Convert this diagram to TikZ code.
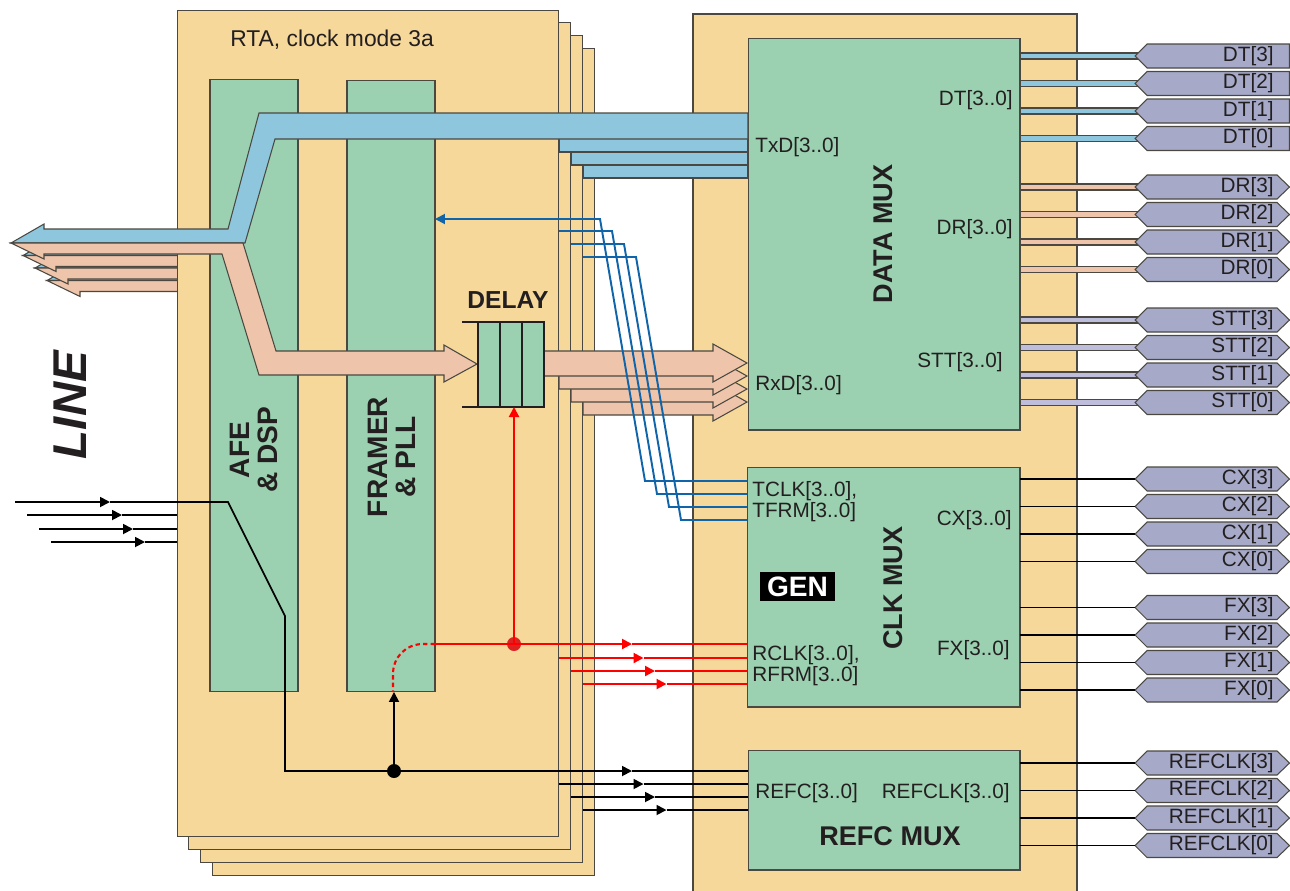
\documentclass[tikz,border=0pt]{standalone}
\usepackage{fontspec}
\setmainfont{Liberation Sans}
\usetikzlibrary{arrows.meta,calc}
\definecolor{pagec}{RGB}{245,216,154}
\definecolor{grn}{RGB}{155,208,176}
\definecolor{blu}{RGB}{142,198,222}
\definecolor{pnk}{RGB}{238,196,170}
\definecolor{lav}{RGB}{166,170,200}
\definecolor{lavl}{RGB}{190,190,220}
\definecolor{edgec}{RGB}{75,72,65}
\definecolor{bluel}{RGB}{15,100,170}
\definecolor{txtc}{RGB}{35,31,32}
\definecolor{dotred}{RGB}{220,35,35}
\tikzset{
 pg/.style={fill=pagec, draw=edgec, line width=0.6pt},
 gbox/.style={fill=grn, draw=edgec, line width=0.6pt, inner sep=0pt, outer sep=0pt},
 bandb/.style={fill=blu, draw=edgec, line width=0.6pt},
 bandp/.style={fill=pnk, draw=edgec, line width=0.6pt},
 bandl/.style={fill=lavl, draw=edgec, line width=0.6pt},
 lblst/.style={fill=lav, draw=edgec, line width=0.6pt},
 txt/.style={font=\fontsize{11.8}{13}\selectfont, text=txtc, inner sep=0pt},
 btxt/.style={font=\bfseries\fontsize{15.4}{17}\selectfont, text=txtc, inner sep=0pt},
 bl/.style={draw=bluel, line width=1.1pt},
 rl/.style={draw=red, line width=1.2pt},
 kl/.style={draw=black, line width=1pt},
 ol/.style={draw=black, line width=0.8pt},
 tri/.style={-{Triangle[length=0.2cm,width=0.2cm]}},
 dotn/.style={circle, inner sep=0pt, minimum size=0.28cm},
}
\newcommand\outlbl[4]{%
  \draw[lblst] (1135,#2) -- (1147,{#2-12}) -- (#4,{#2-12}) -- (1289.5,#2) -- (#4,{#2+12}) -- (1147,{#2+12}) -- cycle;
  \node[txt, anchor=east] (#1) at (1274,#2) {#3};
  \coordinate (#1in) at (1135,#2);
}
\begin{document}
\begin{tikzpicture}[x=0.02cm, y=-0.02cm]
\useasboundingbox (0,0) rectangle (1290,890);

% shadow copies of the line arrow
\foreach \k in {3,2,1}{
 \begin{scope}[shift={({12*\k},{12.5*\k})}]
  \draw[bandb] (200,229) -- (44,229) -- (44,224) -- (11,243) -- (200,243) -- cycle;
  \draw[bandp] (11,243) -- (200,243) -- (200,254) -- (44,254) -- (44,259) -- cycle;
 \end{scope}
}

% stacked pages
\foreach \k in {3,2,1}{
 \draw[pg] ({177+11.7*\k},{10+12.8*\k}) rectangle ++(382,827);
}
\node[pg, inner sep=0pt, outer sep=0pt, minimum width=7.64cm, minimum height=16.54cm] (rta) at (368,423.5) {};
\node[txt, font=\fontsize{13}{15}\selectfont, anchor=west] (rtat) at (230,40) {RTA, clock mode 3a};

% right panel
\draw[pg] (693,14) rectangle (1077,900);

% green boxes
\node[gbox, minimum width=1.76cm, minimum height=12.26cm] (afe) at (254,385.5) {};
\node[gbox, minimum width=1.76cm, minimum height=12.24cm] (fr) at (391,386) {};
\node[gbox, minimum width=5.44cm, minimum height=7.84cm] (dmux) at (884,234) {};
\node[gbox, minimum width=5.46cm, minimum height=4.8cm] (cmux) at (883.5,587) {};
\node[gbox, minimum width=5.44cm, minimum height=2.4cm] (rmux) at (884,810) {};

% TxD blue bands
\foreach \k in {3,2,1}{
 \draw[bandb] ({547+12*\k},{113+13*\k}) rectangle (748,{139+13*\k});
}
\draw[bandb] (748,113) -- (259,113) -- (228,229) -- (44,229) -- (44,224) -- (11,243) -- (245,243) -- (275,139) -- (748,139) -- cycle;
% pink receive path
\draw[bandp] (11,243) -- (243,243) -- (276,351) -- (444,351) -- (444,345) -- (477,364) -- (444,382) -- (444,375) -- (259,375) -- (222,254) -- (44,254) -- (44,259) -- cycle;

% RxD pink arrows
\foreach \k/\xs in {3/583,2/571,1/559,0/544}{
 \draw[bandp] (\xs,{351+13*\k}) -- (713,{351+13*\k}) -- (713,{344+13*\k}) -- (747,{363+13*\k}) -- (713,{382+13*\k}) -- (713,{376+13*\k}) -- (\xs,{376+13*\k}) -- cycle;
}

% delay block
\fill[grn] (478,322) rectangle (544,407);
\draw[line width=1.3pt, draw=txtc] (462,322) -- (544,322) -- (544,407) -- (462,407)
  (478,322) -- (478,407) (500,322) -- (500,407) (522,322) -- (522,407);
\node[inner sep=0pt, outer sep=0pt, minimum width=1.32cm, minimum height=1.7cm] (delay) at (511,364.5) {};
\node[font=\bfseries\fontsize{14}{16}\selectfont, text=txtc, inner sep=0pt] (delayt) at (508,300) {DELAY};

% blue TCLK/TFRM lines
\draw[bl, tri] (cmux.west |- 0,481) -- (645,481) -- (600,219) -- (fr.east |- 0,219);
\draw[bl] (559,231) -- (612,231) -- (657,494) -- (cmux.west |- 0,494);
\draw[bl] (571,244) -- (624,244) -- (669,507) -- (cmux.west |- 0,507);
\draw[bl] (583,257) -- (636,257) -- (681,520) -- (cmux.west |- 0,520);

% red lines
\node[dotn, fill=dotred] (rdot) at (514,644) {};
\draw[rl, tri] (rdot.center) -- (delay.south -| rdot);
\draw[rl, tri] (fr.east |- rdot) -- (632,644);
\draw[rl] (632,644) -- (cmux.west |- rdot);
\foreach \xs/\y/\t in {559/658/643.5, 571/671/655, 583/684/666.5}{
 \draw[rl, tri] (\xs,\y) -- (\t,\y);
 \draw[rl] (\t,\y) -- (cmux.west |- 0,\y);
}
\draw[rl, dash pattern=on 2.5pt off 1.8pt] (fr.east |- rdot) -- (423,644) .. controls (406,644) and (393,657) .. (393,674) -- (393,692);

% black lines
\node[dotn, fill=black] (kdot) at (394,771) {};
\draw[kl, tri] (kdot.center) -- (fr.south -| kdot);
\draw[kl, tri] (15,502) -- (110,502);
\draw[kl] (110,502) -- (228,502) -- (285,616) -- (285,771) -- (kdot.center);
\draw[kl, tri] (kdot.center) -- (632,771);
\draw[kl] (632,771) -- (rmux.west |- kdot);
\foreach \xs/\y/\t in {27/515/122, 39/529/133, 51/542/145}{
 \draw[kl, tri] (\xs,\y) -- (\t,\y);
 \draw[kl] (\t,\y) -- (rta.west |- 0,\y);
}
\foreach \xs/\y/\t in {559/784/643.5, 571/797/655, 583/810/666.5}{
 \draw[kl, tri] (\xs,\y) -- (\t,\y);
 \draw[kl] (\t,\y) -- (rmux.west |- 0,\y);
}

% outputs
\foreach \n/\y in {3/56,2/83.5,1/111,0/138.5}{
 \draw[bandb] ($(dmux.east |- 0,\y)+(0,-3)$) rectangle (1140,{\y+3});
 \outlbl{dt\n}{\y}{DT[\n]}{1289.5}
}
\foreach \n/\y in {3/187,2/214.5,1/242,0/269.5}{
 \draw[bandp] ($(dmux.east |- 0,\y)+(0,-3)$) rectangle (1140,{\y+3});
 \outlbl{dr\n}{\y}{DR[\n]}{1277}
}
\foreach \n/\y in {3/320,2/347.5,1/375,0/402.5}{
 \draw[bandl] ($(dmux.east |- 0,\y)+(0,-3)$) rectangle (1140,{\y+3});
 \outlbl{stt\n}{\y}{STT[\n]}{1277}
}
\foreach \n/\y in {3/479,2/506.5,1/534,0/561.5}{
 \outlbl{cx\n}{\y}{CX[\n]}{1277}
 \draw[ol] (cmux.east |- cx\n in) -- (cx\n in);
}
\foreach \n/\y in {3/607.5,2/635,1/662.5,0/690}{
 \outlbl{fx\n}{\y}{FX[\n]}{1277}
 \draw[ol] (cmux.east |- fx\n in) -- (fx\n in);
}
\foreach \n/\y in {3/763,2/790.5,1/818,0/845.5}{
 \outlbl{rc\n}{\y}{REFCLK[\n]}{1277}
 \draw[ol] (rmux.east |- rc\n in) -- (rc\n in);
}

% texts in mux boxes
\node[txt, anchor=west] (txd) at (755,147) {TxD[3..0]};
\node[txt, anchor=west] (rxd) at (755,385) {RxD[3..0]};
\node[txt, anchor=east] (dtt) at (1013,100) {DT[3..0]};
\node[txt, anchor=east] (drt) at (1013,229) {DR[3..0]};
\node[txt, anchor=east] (sttt) at (1003,362) {STT[3..0]};
\node[btxt, rotate=90] (dmt) at (883,234) {DATA MUX};

\node[txt, anchor=west] (tclk) at (752,491) {TCLK[3..0],};
\node[txt, anchor=west] (tfrm) at (752,512) {TFRM[3..0]};
\node[txt, anchor=east] (cxt) at (1012,520) {CX[3..0]};
\node[txt, anchor=east] (fxt) at (1010,650) {FX[3..0]};
\node[txt, anchor=west] (rclk) at (752,655) {RCLK[3..0],};
\node[txt, anchor=west] (rfrm) at (752,676) {RFRM[3..0]};
\node[btxt, rotate=90] (cmt) at (893,588) {CLK MUX};
\node[fill=black, text=white, font=\bfseries\fontsize{16}{18}\selectfont, inner sep=0pt, minimum width=1.5cm, minimum height=0.58cm] (gen) at (797.5,586.5) {GEN};

\node[txt, anchor=west] (refc) at (755,793) {REFC[3..0]};
\node[txt, anchor=east] (refclk) at (1010,793) {REFCLK[3..0]};
\node[btxt] (rmt) at (890,836) {REFC MUX};

% left texts
\node[rotate=90, align=center, text=txtc, inner sep=0pt, font=\bfseries\fontsize{16}{16}\selectfont] (afet) at (254,450) {AFE\\\& DSP};
\node[rotate=90, align=center, text=txtc, inner sep=0pt, font=\bfseries\fontsize{16}{16}\selectfont] (frt) at (392,457) {FRAMER\\\& PLL};
\node[rotate=90, text=txtc, inner sep=0pt, font=\bfseries\itshape\fontsize{27}{30}\selectfont] (linet) at (70,405) {LINE};
\end{tikzpicture}
\end{document}
